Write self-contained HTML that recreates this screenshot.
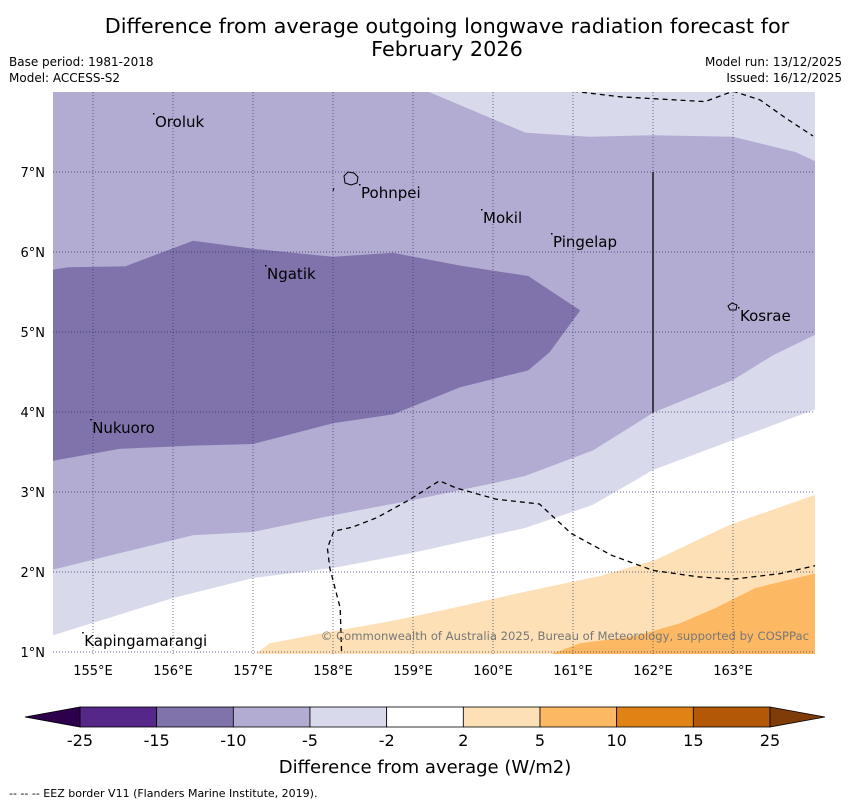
<!DOCTYPE html>
<html><head><meta charset="utf-8">
<style>
body{margin:0;background:#fff;font-family:"DejaVu Sans","Liberation Sans",sans-serif;}
svg{display:block;font-family:"DejaVu Sans","Liberation Sans",sans-serif;}
</style></head>
<body>
<svg id="chart" width="850" height="804" viewBox="0 0 850 804" xmlns="http://www.w3.org/2000/svg">
<text x="447" y="33" font-size="20.8" text-anchor="middle">Difference from average outgoing longwave radiation forecast for</text>
<text x="447" y="56" font-size="20.8" text-anchor="middle">February 2026</text>
<text x="9" y="66" font-size="12">Base period: 1981-2018</text>
<text x="9" y="82" font-size="12">Model: ACCESS-S2</text>
<text x="842" y="66" font-size="12" text-anchor="end">Model run: 13/12/2025</text>
<text x="842" y="82" font-size="12" text-anchor="end">Issued: 16/12/2025</text>
<defs><clipPath id="mapclip"><rect x="53" y="92" width="762" height="562"/></clipPath></defs>
<g id="map" clip-path="url(#mapclip)">
<rect x="53" y="92" width="762" height="562" fill="#fff"/>
</g>
<g id="axes"></g>
<g id="colorbar"></g>
<text x="425" y="773" font-size="18" text-anchor="middle">Difference from average (W/m2)</text>
<text x="9" y="797" font-size="11">--  --  -- EEZ border V11 (Flanders Marine Institute, 2019).</text>
</svg>
<script>
const NS="http://www.w3.org/2000/svg";
const lonTicks=[155,156,157,158,159,160,161,162,163];
const latTicks=[1,2,3,4,5,6,7];
const cbLevels=["-25","-15","-10","-5","-2","2","5","10","15","25"];
const cbColors=["#542788","#8073ac","#b2abd2","#d8daeb","#ffffff","#fee0b6","#fdb863","#e08214","#b35806"];
const lonMin=154.5,latMax=8;
function X(lon){return 53+(lon-lonMin)*80;}
function Y(lat){return 92+(latMax-lat)*80;}
const lightPoly=[[154.5,8],[164.1,8],[164.1,4.06],[163,3.65],[162,3.275],[161.25,2.84],[160.4,2.55],[159,2.24],[158,2.05],[157,1.925],[156,1.675],[154.5,1.21]];
const mediumPoly=[[154.5,8],[159.2,8],[160.41,7.49],[161.2,7.44],[162,7.46],[163,7.44],[163.78,7.25],[164.1,7.1],[164.1,5.0],[163.5,4.71],[163,4.4],[162,3.99],[161.25,3.52],[160.4,3.2],[160,3.11],[159,2.9],[158,2.71],[157,2.5],[156.25,2.46],[154.5,2.03]];
const darkPoly=[[154.5,5.78],[154.69,5.81],[155.4,5.82],[156.25,6.14],[157,6.04],[158,5.94],[158.75,5.99],[159.59,5.83],[160.44,5.7],[161.09,5.27],[160.71,4.75],[160.44,4.52],[159.59,4.31],[158.75,3.97],[158,3.86],[157,3.6],[156.25,3.58],[155.34,3.54],[154.5,3.39]];
const orangeLight=[[156.94,0.9],[157.21,1.11],[158,1.26],[158.75,1.39],[159.5,1.55],[160.34,1.74],[161.34,1.95],[162.03,2.15],[162.96,2.59],[164.1,2.99],[164.1,0.9]];
const orangeMid=[[160.53,0.9],[161.09,1.11],[161.78,1.2],[162.34,1.36],[162.78,1.55],[163.28,1.8],[164.1,2.0],[164.1,0.9]];
const eez1=[[161,8.01],[161.59,7.94],[162.65,7.88],[163,8.01],[163.34,7.9],[163.65,7.68],[164.0,7.45]];
const eez2=[[158.11,0.9],[158.09,1.55],[157.96,2.05],[157.93,2.3],[158.01,2.51],[158.24,2.56],[158.55,2.68],[158.95,2.9],[159.33,3.14],[159.54,3.05],[160.04,2.91],[160.58,2.85],[160.98,2.48],[161.48,2.21],[162,2.02],[162.56,1.94],[163,1.91],[163.59,1.98],[164.03,2.08]];
const islands=[["Oroluk",155.775,7.5625],["Pohnpei",158.35,6.675],["Mokil",159.875,6.3625],["Pingelap",160.75,6.0625],["Ngatik",157.175,5.6625],["Kosrae",163.0875,5.1375],["Nukuoro",154.99,3.7375],["Kapingamarangi",154.89,1.075]];
const map=document.getElementById('map');
function poly(pts,fill,name){const e=document.createElementNS(NS,'polygon');e.setAttribute('points',pts.map(p=>X(p[0])+','+Y(p[1])).join(' '));e.setAttribute('fill',fill);


map.appendChild(e);}
poly(lightPoly,"#d8daeb","contour-minus5-to-minus2");
poly(mediumPoly,"#b2abd2","contour-minus10-to-minus5");
poly(darkPoly,"#8073ac","contour-minus15-to-minus10");
poly(orangeLight,"#fee0b6","contour-2-to-5");
poly(orangeMid,"#fdb863","contour-5-to-10");
lonTicks.forEach(l=>{const e=document.createElementNS(NS,'line');e.setAttribute('x1',X(l));e.setAttribute('x2',X(l));e.setAttribute('y1',92);e.setAttribute('y2',654);e.setAttribute('stroke','#333366');e.setAttribute('stroke-width','0.7');e.setAttribute('stroke-dasharray','1,2');


map.appendChild(e);});
latTicks.forEach(l=>{const e=document.createElementNS(NS,'line');e.setAttribute('y1',Y(l));e.setAttribute('y2',Y(l));e.setAttribute('x1',53);e.setAttribute('x2',815);e.setAttribute('stroke','#333366');e.setAttribute('stroke-width','0.7');e.setAttribute('stroke-dasharray','1,2');


map.appendChild(e);});
function pl(pts,name,dash){const e=document.createElementNS(NS,'polyline');e.setAttribute('points',pts.map(p=>X(p[0])+','+Y(p[1])).join(' '));e.setAttribute('fill','none');e.setAttribute('stroke','#000');e.setAttribute('stroke-width','1.3');if(dash)e.setAttribute('stroke-dasharray',dash);


map.appendChild(e);}
pl(eez1,'eez-border-north','5,4');
pl(eez2,'eez-border-south','5,4');
pl([[162,7.0],[162,3.99]],'eez-border-vertical',null);
islands.forEach(d=>{const t=document.createElementNS(NS,'text');t.setAttribute('x',X(d[1]));t.setAttribute('y',Y(d[2]));t.setAttribute('font-size','15');t.textContent=d[0];


map.appendChild(t);
const m=document.createElementNS(NS,'rect');m.setAttribute('x',X(d[1])-2);m.setAttribute('y',Y(d[2])-14);m.setAttribute('width',1.5);m.setAttribute('height',1.5);m.setAttribute('fill','#000');


map.appendChild(m);});
const pohn=document.createElementNS(NS,'path');pohn.setAttribute('d','M344,176 l4,-4 l6,1 l4,4 l-1,6 l-6,2 l-6,-2 z M334,188 l-1,3');pohn.setAttribute('fill','none');pohn.setAttribute('stroke','#000');


map.appendChild(pohn);
const kos=document.createElementNS(NS,'path');kos.setAttribute('d','M728,306 l4,-3 l5,2 l-1,5 l-6,0 z');kos.setAttribute('fill','none');kos.setAttribute('stroke','#000');


map.appendChild(kos);
const cr=document.createElementNS(NS,'text');cr.setAttribute('x',809);cr.setAttribute('y',640);cr.setAttribute('font-size','11.6');cr.setAttribute('text-anchor','end');cr.setAttribute('fill','#777');cr.textContent='© Commonwealth of Australia 2025, Bureau of Meteorology, supported by COSPPac';


map.appendChild(cr);
const ax=document.getElementById('axes');
lonTicks.forEach(l=>{const t=document.createElementNS(NS,'text');t.setAttribute('x',X(l));t.setAttribute('y',675);t.setAttribute('font-size','13');t.setAttribute('text-anchor','middle');t.textContent=l+'°E';


ax.appendChild(t);});
latTicks.forEach(l=>{const t=document.createElementNS(NS,'text');t.setAttribute('x',45);t.setAttribute('y',Y(l)+5);t.setAttribute('font-size','13');t.setAttribute('text-anchor','end');t.textContent=l+'°N';


ax.appendChild(t);});
const cb=document.getElementById('colorbar');
const cbx0=80,cbw=690/cbColors.length;
cbColors.forEach((c,i)=>{const r=document.createElementNS(NS,'rect');r.setAttribute('x',cbx0+i*cbw);r.setAttribute('y',707);r.setAttribute('width',cbw);r.setAttribute('height',20);r.setAttribute('fill',c);r.setAttribute('stroke','#000');r.setAttribute('stroke-width','0.8');


cb.appendChild(r);});
const tl=document.createElementNS(NS,'polygon');tl.setAttribute('points','80,707 25,717 80,727');tl.setAttribute('fill','#2d004b');tl.setAttribute('stroke','#000');tl.setAttribute('stroke-width','0.8');


cb.appendChild(tl);
const tr=document.createElementNS(NS,'polygon');tr.setAttribute('points','770,707 825,717 770,727');tr.setAttribute('fill','#7f3b08');tr.setAttribute('stroke','#000');tr.setAttribute('stroke-width','0.8');


cb.appendChild(tr);
cbLevels.forEach((v,i)=>{const t=document.createElementNS(NS,'text');t.setAttribute('x',cbx0+i*cbw);t.setAttribute('y',746);t.setAttribute('font-size','16');t.setAttribute('text-anchor','middle');t.textContent=v;


cb.appendChild(t);});
</script>
</body></html>
